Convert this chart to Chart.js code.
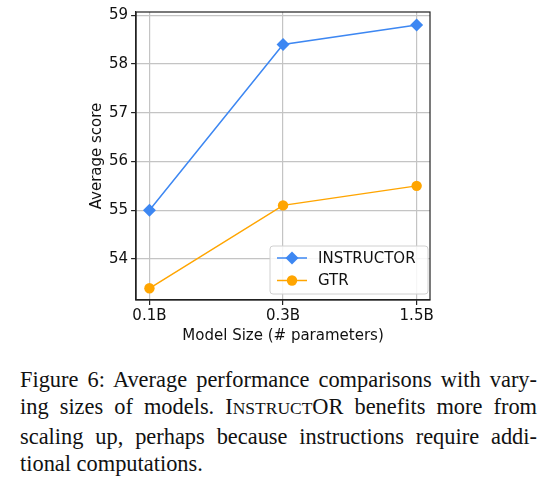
<!DOCTYPE html>
<html>
<head>
    <title>Model size vs average score</title>
    <script src="https://cdn.jsdelivr.net/npm/chart.js"></script>
    <style>
        body { margin: 0; background: #fff; width: 557px; height: 483px; overflow: hidden; position: relative; }
        #wrap { position: absolute; left: 0; top: 0; width: 557px; height: 345px; }
        #caption { position: absolute; left: 20px; top: 366px; width: 517px;
                   font-family: "Liberation Serif", "Times New Roman", serif; font-size: 22.4px; line-height: 27.3px; color: #111; }
        #caption div { text-align: justify; text-align-last: justify; white-space: nowrap; }
        #caption div.last { text-align-last: left; }
        .sc { font-size: 0.78em; }
    </style>
</head>
<body>
    <div id="wrap"><canvas id="sizeChart" width="557" height="345"></canvas></div>
    <div id="caption">
        <div>Figure 6: Average performance comparisons with vary-</div>
        <div>ing sizes of models. I<span class="sc">NSTRUCT</span>OR benefits more from</div>
        <div>scaling up, perhaps because instructions require addi-</div>
        <div class="last">tional computations.</div>
    </div>
    <script>
        const sizes = ["0.1B", "0.3B", "1.5B"];
        const instructorScores = [55.0, 58.4, 58.8];
        const gtrScores = [53.4, 55.1, 55.5];
        const yTicks = [54, 55, 56, 57, 58, 59];

        const blue = "#3d87f2";
        const orange = "#ffa500";
        const tickFont = { family: "DejaVu Sans", size: 15 };

        function toPoints(values) {
            return values.map((v, i) => ({ x: i, y: v }));
        }

        // top/right spines + matplotlib-style legend with line and marker
        const framePlugin = {
            id: "frame",
            afterDraw(chart) {
                const ctx = chart.ctx;
                const a = chart.chartArea;
                ctx.save();
                ctx.strokeStyle = "#222";
                ctx.lineWidth = 1.2;
                ctx.strokeRect(a.left, a.top, a.right - a.left, a.bottom - a.top);

                const boxW = 158, boxH = 48;
                const bx = a.right - 2 - boxW, by = a.bottom - 6 - boxH;
                ctx.fillStyle = "rgba(255,255,255,0.85)";
                ctx.strokeStyle = "#d0d0d0";
                ctx.lineWidth = 1;
                ctx.beginPath();
                ctx.roundRect(bx, by, boxW, boxH, 3);
                ctx.fill();
                ctx.stroke();

                chart.data.datasets.forEach((ds, i) => {
                    const cy = by + 12 + i * 22.5;
                    ctx.strokeStyle = ds.borderColor;
                    ctx.lineWidth = ds.borderWidth;
                    ctx.beginPath();
                    ctx.moveTo(bx + 7, cy);
                    ctx.lineTo(bx + 37, cy);
                    ctx.stroke();
                    ctx.fillStyle = ds.pointBackgroundColor;
                    ctx.strokeStyle = ds.pointBorderColor;
                    Chart.helpers.drawPoint(ctx, { pointStyle: ds.pointStyle, rotation: 0, borderWidth: 0, radius: ds.pointRadius },
                        bx + 22, cy);
                    ctx.fillStyle = "#111";
                    ctx.font = "15px 'DejaVu Sans'";
                    ctx.textBaseline = "middle";
                    ctx.textAlign = "left";
                    ctx.fillText(ds.label, bx + 48, cy + 1);
                });
                ctx.restore();
            }
        };

        new Chart(document.getElementById("sizeChart"), {
            type: "line",
            data: {
                datasets: [
                    {
                        label: "INSTRUCTOR", data: toPoints(instructorScores),
                        borderColor: blue, backgroundColor: blue, pointBackgroundColor: blue, pointBorderColor: blue,
                        borderWidth: 1.5, pointStyle: "rectRot", pointRadius: 6.5, pointBorderWidth: 0
                    },
                    {
                        label: "GTR", data: toPoints(gtrScores),
                        borderColor: orange, backgroundColor: orange, pointBackgroundColor: orange, pointBorderColor: orange,
                        borderWidth: 1.5, pointStyle: "circle", pointRadius: 5.2, pointBorderWidth: 0
                    }
                ]
            },
            options: {
                responsive: false,
                animation: false,
                layout: { padding: { left: 88, right: 127, top: 7, bottom: 0 } },
                plugins: { legend: { display: false }, tooltip: { enabled: false } },
                scales: {
                    x: {
                        type: "linear", min: -0.1, max: 2.1,
                        afterBuildTicks: axis => { axis.ticks = sizes.map((s, i) => ({ value: i })); },
                        ticks: { callback: v => sizes[v], color: "#111", font: tickFont, padding: 2, maxRotation: 0 },
                        grid: { color: "#c4c4c4", lineWidth: 1.2, tickLength: 5, tickColor: "#222" },
                        border: { display: true, color: "#222", width: 1.2 },
                        title: { display: true, text: "Model Size (# parameters)", color: "#111",
                                 font: tickFont, padding: { top: 0, bottom: 0 } }
                    },
                    y: {
                        min: 53.16, max: 59.065,
                        afterBuildTicks: axis => { axis.ticks = yTicks.map(v => ({ value: v })); },
                        ticks: { color: "#111", font: tickFont, padding: 3 },
                        grid: { color: "#c4c4c4", lineWidth: 1.2, tickLength: 5, tickColor: "#222" },
                        border: { display: true, color: "#222", width: 1.2 },
                        title: { display: true, text: "Average score", color: "#111",
                                 font: tickFont, padding: { top: 0, bottom: 0 } }
                    }
                }
            },
            plugins: [framePlugin]
        });
    </script>
</body>
</html>
